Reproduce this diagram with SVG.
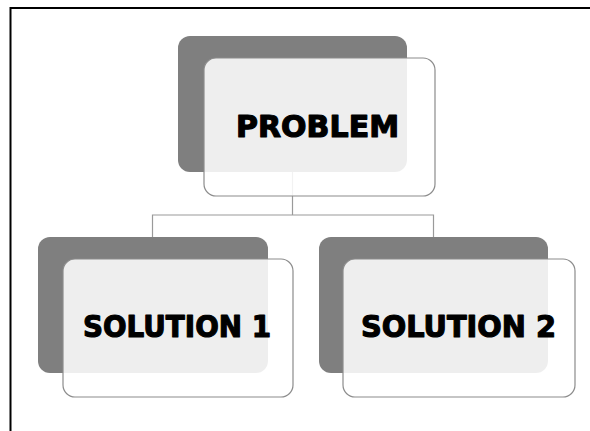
<svg xmlns="http://www.w3.org/2000/svg" width="590" height="431" viewBox="0 0 590 431">
<style>
.back{fill:#7f7f7f;}
.front{fill:#ffffff;fill-opacity:0.87;stroke:#8c8c8c;stroke-width:1.2;}
.lbl{font-family:"DejaVu Sans","Liberation Sans",sans-serif;font-weight:bold;font-size:30px;fill:#000;stroke:#000;stroke-width:1.2;stroke-linejoin:round;}
.conn{fill:none;stroke:#9a9a9a;stroke-width:1.2;}
</style>
<rect width="590" height="431" fill="#ffffff"/>
<path d="M10.5 431 V8 H590" fill="none" stroke="#000" stroke-width="2"/>
<g id="connectors">
<path class="conn" d="M292.5 172 V215 M152.5 237 V215 H433.5 V237"/>
</g>
<g id="problem">
<rect class="back" x="178" y="36" width="229" height="136" rx="12"/>
<rect class="front" x="204" y="58" width="231" height="138" rx="12"/>
<text class="lbl" x="236" y="137" textLength="163" lengthAdjust="spacingAndGlyphs">PROBLEM</text>
</g>
<g id="solution1">
<rect class="back" x="38" y="237" width="230" height="136" rx="12"/>
<rect class="front" x="63" y="259" width="230" height="138" rx="12"/>
<text class="lbl" x="83" y="337" textLength="188" lengthAdjust="spacingAndGlyphs">SOLUTION 1</text>
</g>
<g id="solution2">
<rect class="back" x="319" y="237" width="229" height="136" rx="12"/>
<rect class="front" x="343" y="259" width="232" height="138" rx="12"/>
<text class="lbl" x="361" y="337" textLength="195" lengthAdjust="spacingAndGlyphs">SOLUTION 2</text>
</g>
</svg>
